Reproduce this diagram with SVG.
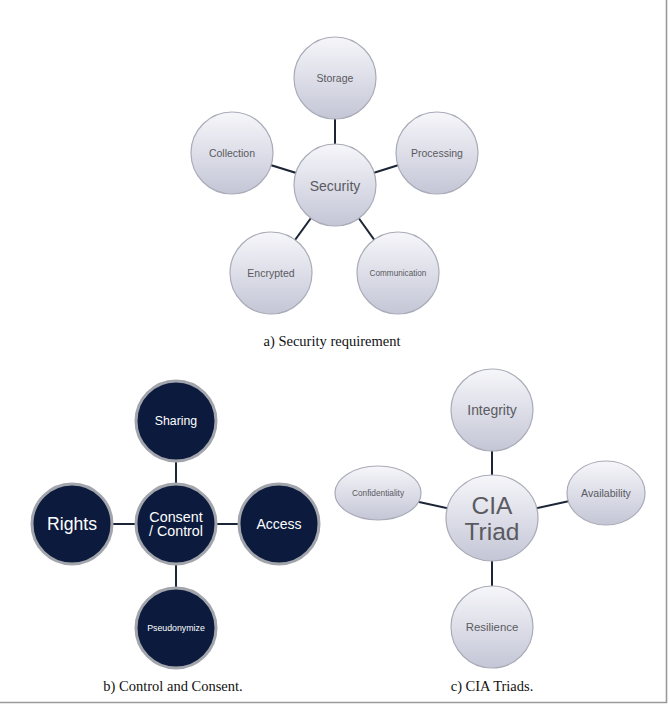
<svg xmlns="http://www.w3.org/2000/svg" width="669" height="706" viewBox="0 0 669 706">
<defs>
<linearGradient id="lg" x1="0" y1="0" x2="0" y2="1">
<stop offset="0" stop-color="#f6f6fa"/>
<stop offset="1" stop-color="#c4c6d6"/>
</linearGradient>
<style>
.lc{fill:url(#lg);stroke:#a9abb7;stroke-width:1.2}
.dc{fill:#0c1b3d;stroke:#a3a5ad;stroke-width:3}
.lt{font-family:"Liberation Sans",Arial,sans-serif;fill:#5a5a60;text-anchor:middle}
.dt{font-family:"Liberation Sans",Arial,sans-serif;fill:#ffffff;text-anchor:middle}
.cap{font-family:"Liberation Serif","Times New Roman",serif;font-size:14.5px;fill:#111;text-anchor:middle}
.con line{stroke:#1c2536;stroke-width:2}
</style>
</defs>
<rect width="669" height="706" fill="#ffffff"/>
<path d="M666.5 0 V702.5 H0" fill="none" stroke="#9a9a9a" stroke-width="1.6"/>

<g id="connectors" class="con">
<line x1="335" y1="78" x2="335" y2="185"/>
<line x1="232" y1="153" x2="335" y2="185"/>
<line x1="437" y1="153" x2="335" y2="185"/>
<line x1="271" y1="273" x2="335" y2="185"/>
<line x1="398" y1="273" x2="335" y2="185"/>
<line x1="176" y1="421" x2="176" y2="524"/>
<line x1="72" y1="524" x2="279" y2="524"/>
<line x1="176" y1="524" x2="176" y2="628"/>
<line x1="492" y1="411" x2="492" y2="627"/>
<line x1="378" y1="493" x2="492" y2="518"/>
<line x1="606" y1="493" x2="492" y2="518"/>
</g>

<g id="storage"><circle class="lc" cx="335" cy="78" r="41"/><text class="lt" x="335" y="82" font-size="10.5">Storage</text></g>
<g id="collection"><circle class="lc" cx="232" cy="153" r="41"/><text class="lt" x="232" y="157" font-size="10.5">Collection</text></g>
<g id="processing"><circle class="lc" cx="437" cy="153" r="41"/><text class="lt" x="437" y="157" font-size="10.5">Processing</text></g>
<g id="security"><circle class="lc" cx="335" cy="185" r="41"/><text class="lt" x="335" y="191" font-size="14">Security</text></g>
<g id="encrypted"><circle class="lc" cx="271" cy="273" r="41"/><text class="lt" x="271" y="277" font-size="10.5">Encrypted</text></g>
<g id="communication"><circle class="lc" cx="398" cy="273" r="41"/><text class="lt" x="398" y="276" font-size="8.2">Communication</text></g>
<text class="cap" x="332" y="346">a) Security requirement</text>

<g id="sharing"><circle class="dc" cx="176" cy="421" r="40"/><text class="dt" x="176" y="425" font-size="12.3">Sharing</text></g>
<g id="rights"><circle class="dc" cx="72" cy="524" r="40"/><text class="dt" x="72" y="530" font-size="17.6">Rights</text></g>
<g id="consent"><circle class="dc" cx="176" cy="524" r="40"/><text class="dt" x="176" y="521.5" font-size="14.3">Consent</text><text class="dt" x="176" y="536" font-size="14.3">/ Control</text></g>
<g id="access"><circle class="dc" cx="279" cy="524" r="40"/><text class="dt" x="279" y="529" font-size="14">Access</text></g>
<g id="pseudonymize"><circle class="dc" cx="176" cy="628" r="40"/><text class="dt" x="176" y="631" font-size="8.8">Pseudonymize</text></g>
<text class="cap" x="173" y="691">b) Control and Consent.</text>

<g id="integrity"><circle class="lc" cx="492" cy="410" r="41"/><text class="lt" x="492" y="415" font-size="13.9">Integrity</text></g>
<g id="confidentiality"><ellipse class="lc" cx="378" cy="493" rx="43" ry="27"/><text class="lt" x="378" y="496" font-size="8.3">Confidentiality</text></g>
<g id="availability"><ellipse class="lc" cx="606" cy="493" rx="39" ry="32"/><text class="lt" x="606" y="496.5" font-size="10.6">Availability</text></g>
<g id="cia"><ellipse class="lc" cx="492" cy="518" rx="46" ry="43"/><text class="lt" x="492" y="514" font-size="24.5">CIA</text><text class="lt" x="492" y="540" font-size="24.5">Triad</text></g>
<g id="resilience"><circle class="lc" cx="492" cy="627" r="41"/><text class="lt" x="492" y="631" font-size="11.4">Resilience</text></g>
<text class="cap" x="492" y="691">c) CIA Triads.</text>
</svg>
